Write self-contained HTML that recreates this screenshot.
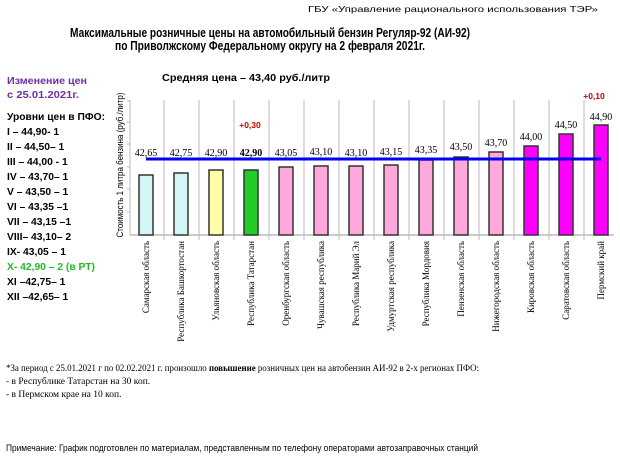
<!DOCTYPE html>
<html><head><meta charset="utf-8"><style>
html,body{margin:0;padding:0;background:#fff;}
svg{display:block}
.s{font-family:"Liberation Sans",sans-serif}
.r{font-family:"Liberation Serif",serif}
</style></head><body>
<svg width="620" height="465" viewBox="0 0 620 465" xmlns="http://www.w3.org/2000/svg">
<text class="s" x="598" y="12" font-size="8.5" text-anchor="end" textLength="290" lengthAdjust="spacingAndGlyphs">ГБУ «Управление рационального использования ТЭР»</text>
<text class="s" x="270" y="37" font-size="12.5" font-weight="bold" text-anchor="middle" textLength="400" lengthAdjust="spacingAndGlyphs">Максимальные розничные цены на автомобильный бензин Регуляр-92 (АИ-92)</text>
<text class="s" x="270" y="50" font-size="12.5" font-weight="bold" text-anchor="middle" textLength="310" lengthAdjust="spacingAndGlyphs">по Приволжскому Федеральному округу на 2 февраля 2021г.</text>
<text class="s" x="162" y="81" font-size="10" font-weight="bold" textLength="168" lengthAdjust="spacingAndGlyphs">Средняя цена – 43,40   руб./литр</text>

<g class="s" font-size="10.3" font-weight="bold">
<text x="7" y="84" fill="#7030a0" textLength="80" lengthAdjust="spacingAndGlyphs">Изменение цен</text>
<text x="7" y="98" fill="#7030a0" textLength="72" lengthAdjust="spacingAndGlyphs">с  25.01.2021г.</text>
<text x="7" y="120" textLength="98" lengthAdjust="spacingAndGlyphs">Уровни цен в ПФО:</text>
<text x="7" y="135">I – 44,90- 1</text>
<text x="7" y="150">II – 44,50– 1</text>
<text x="7" y="165">III – 44,00 - 1</text>
<text x="7" y="180">IV – 43,70– 1</text>
<text x="7" y="195">V – 43,50 – 1</text>
<text x="7" y="210">VI – 43,35 –1</text>
<text x="7" y="225">VII – 43,15 –1</text>
<text x="7" y="240">VIII– 43,10– 2</text>
<text x="7" y="255">IX- 43,05 – 1</text>
<text x="7" y="270" fill="#22bb22" textLength="88" lengthAdjust="spacingAndGlyphs">X- 42,90 – 2 (в РТ)</text>
<text x="7" y="285">XI –42,75– 1</text>
<text x="7" y="300">XII –42,65– 1</text>
</g>

<text class="s" font-size="9" transform="translate(123,165) rotate(-90)" text-anchor="middle" textLength="145" lengthAdjust="spacingAndGlyphs">Стоимость 1 литра бензина  (руб./литр)</text>

<g stroke="#bbb" stroke-width="1">
<line x1="130" y1="100" x2="130" y2="235"/>
<line x1="127" y1="101" x2="130" y2="101"/><line x1="127" y1="122" x2="130" y2="122"/><line x1="127" y1="144" x2="130" y2="144"/><line x1="127" y1="167" x2="130" y2="167"/><line x1="127" y1="189" x2="130" y2="189"/><line x1="127" y1="212" x2="130" y2="212"/>
<line x1="130" y1="235" x2="614" y2="235" stroke="#999"/>
<line x1="164" y1="100" x2="164" y2="240"/><line x1="199" y1="100" x2="199" y2="240"/><line x1="234" y1="100" x2="234" y2="240"/><line x1="269" y1="100" x2="269" y2="240"/><line x1="304" y1="100" x2="304" y2="240"/><line x1="339" y1="100" x2="339" y2="240"/><line x1="374" y1="100" x2="374" y2="240"/><line x1="409" y1="100" x2="409" y2="240"/><line x1="444" y1="100" x2="444" y2="240"/><line x1="479" y1="100" x2="479" y2="240"/><line x1="514" y1="100" x2="514" y2="240"/><line x1="549" y1="100" x2="549" y2="240"/><line x1="584" y1="100" x2="584" y2="240"/>
</g>

<g stroke="#333" stroke-width="1.5">
<rect x="139" y="175" width="14" height="60" fill="#d3f7f7"/>
<rect x="174" y="173" width="14" height="62" fill="#d3f7f7"/>
<rect x="209" y="170" width="14" height="65" fill="#ffffa8"/>
<rect x="244" y="170" width="14" height="65" fill="#22cc22"/>
<rect x="279" y="167" width="14" height="68" fill="#ffa8dc"/>
<rect x="314" y="166" width="14" height="69" fill="#ffa8dc"/>
<rect x="349" y="166" width="14" height="69" fill="#ffa8dc"/>
<rect x="384" y="165" width="14" height="70" fill="#ffa8dc"/>
<rect x="419" y="160" width="14" height="75" fill="#ffa8dc"/>
<rect x="454" y="157" width="14" height="78" fill="#ffa8dc"/>
<rect x="489" y="152" width="14" height="83" fill="#ffa8dc"/>
<rect x="524" y="146" width="14" height="89" fill="#ff00ff"/>
<rect x="559" y="134" width="14" height="101" fill="#ff00ff"/>
<rect x="594" y="125" width="14" height="110" fill="#ff00ff"/>
</g>
<line x1="146" y1="159" x2="601" y2="159" stroke="#0000ee" stroke-width="3"/>

<g class="r" font-size="10" text-anchor="middle">
<text x="146" y="156">42,65</text><text x="181" y="156">42,75</text><text x="216" y="156">42,90</text>
<text x="251" y="156" font-weight="bold">42,90</text>
<text x="286" y="156">43,05</text><text x="321" y="155">43,10</text><text x="356" y="156">43,10</text><text x="391" y="155">43,15</text>
<text x="426" y="153">43,35</text><text x="461" y="150">43,50</text><text x="496" y="146">43,70</text><text x="531" y="140">44,00</text><text x="566" y="128">44,50</text><text x="601" y="120">44,90</text>
</g>
<g class="s" font-size="8.5" font-weight="bold" fill="#c00000" text-anchor="middle">
<text x="250" y="128">+0,30</text><text x="594" y="99">+0,10</text>
</g>

<g class="r" font-size="9" text-anchor="end">
<text transform="translate(149,241) rotate(-90)">Самарская область</text>
<text transform="translate(184,241) rotate(-90)">Республика Башкортостан</text>
<text transform="translate(219,241) rotate(-90)">Ульяновская область</text>
<text transform="translate(254,241) rotate(-90)">Республика  Татарстан</text>
<text transform="translate(289,241) rotate(-90)">Оренбургская область</text>
<text transform="translate(324,241) rotate(-90)">Чувашская республика</text>
<text transform="translate(359,241) rotate(-90)">Республика Марий Эл</text>
<text transform="translate(394,241) rotate(-90)">Удмуртская республика</text>
<text transform="translate(429,241) rotate(-90)">Республика Мордовия</text>
<text transform="translate(464,241) rotate(-90)">Пензенская область</text>
<text transform="translate(499,241) rotate(-90)">Нижегородская область</text>
<text transform="translate(534,241) rotate(-90)">Кировская область</text>
<text transform="translate(569,241) rotate(-90)">Саратовская область</text>
<text transform="translate(604,241) rotate(-90)">Пермский край</text>
</g>

<g class="r" font-size="9.5">
<text x="6" y="371" textLength="473" lengthAdjust="spacingAndGlyphs">*За период с 25.01.2021 г по 02.02.2021 г.  произошло <tspan font-weight="bold">повышение</tspan> розничных  цен на автобензин АИ-92  в 2-х регионах ПФО:</text>
<text x="6" y="384">- в Республике Татарстан на 30 коп.</text>
<text x="6" y="397">- в Пермском крае на 10 коп.</text>
</g>
<text class="s" x="6" y="451" font-size="9.5" textLength="472" lengthAdjust="spacingAndGlyphs">Примечание: График подготовлен по материалам, представленным по телефону операторами автозаправочных станций</text>
</svg>
</body></html>
